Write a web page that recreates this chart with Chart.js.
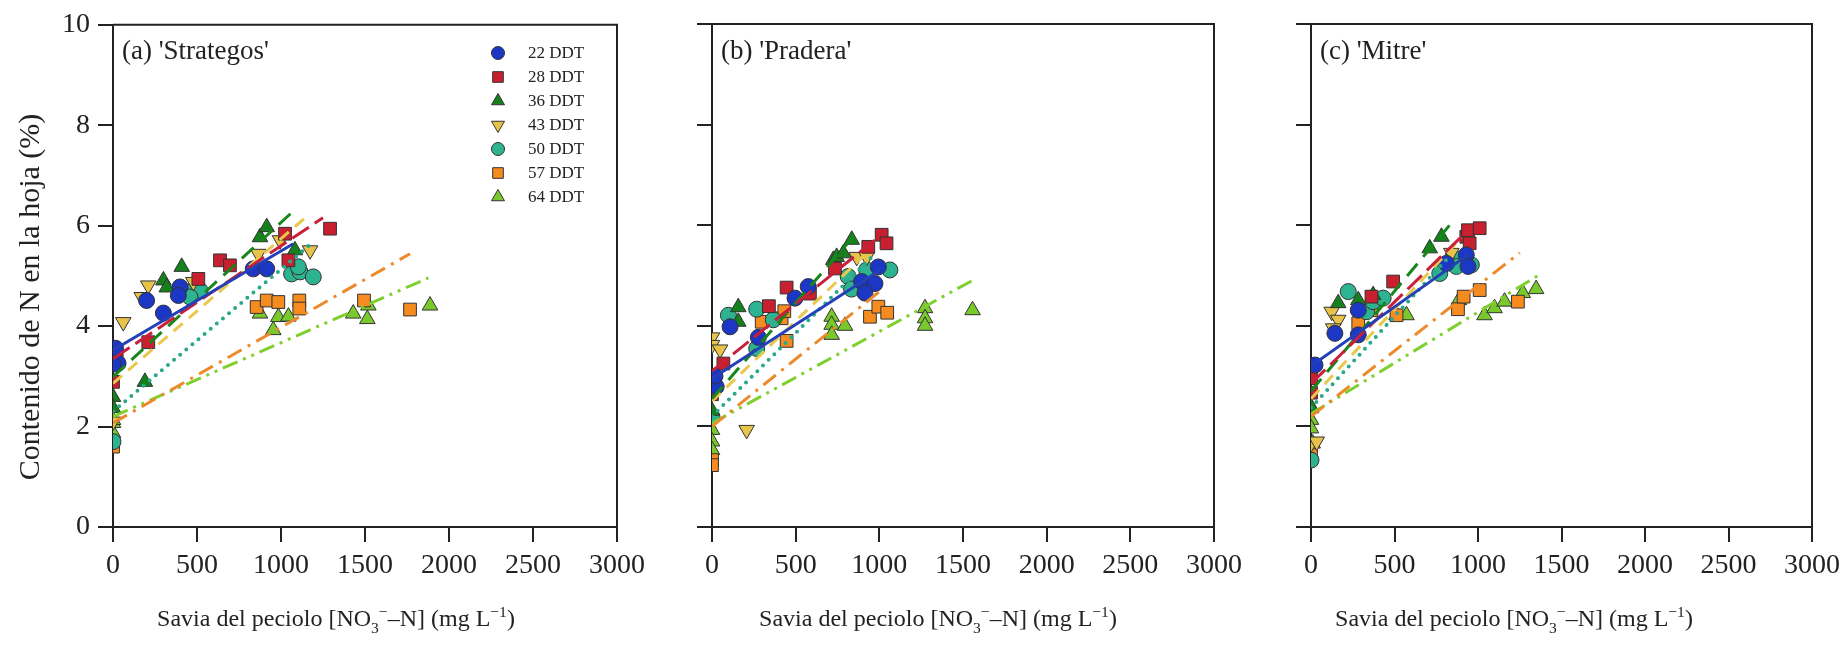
<!DOCTYPE html>
<html>
<head>
<meta charset="utf-8">
<script src="https://cdn.jsdelivr.net/npm/chart.js@4.4.1/dist/chart.umd.min.js"></script>
<style>
  body { margin: 0; background: #fff; }
  #wrap { position: relative; width: 1847px; height: 652px; }
  canvas { position: absolute; top: 0; }
</style>
</head>
<body>
<div id="wrap">
  <canvas id="panel-a" width="652" height="652" style="left:0px"></canvas>
  <canvas id="panel-b" width="598" height="652" style="left:652px"></canvas>
  <canvas id="panel-c" width="597" height="652" style="left:1250px"></canvas>
</div>
<script>
// =========
// Variables
// =========

//  Series
//  ------
const seriesLabels = ['22 DDT', '28 DDT', '36 DDT', '43 DDT', '50 DDT', '57 DDT', '64 DDT'];
const xTicks = [0, 500, 1000, 1500, 2000, 2500, 3000];
const yTicks = [0, 2, 4, 6, 8, 10];

//  (a) 'Strategos'  - petiole sap (x) and leaf N (y), one list per series
//  ---------------
const strategosX = [
  [0, 30, 0, 15, 200, 300, 399, 389, 835, 915],
  [0, 22, 210, 508, 637, 696, 1024, 1044, 1292],
  [0, 0, 190, 300, 320, 409, 875, 915, 1083],
  [0, 61, 171, 210, 478, 865, 994, 1173],
  [0, 438, 478, 518, 458, 1063, 1113, 1192, 1103],
  [0, 0, 855, 915, 984, 1109, 1109, 1494, 1768],
  [0, 0, 0, 875, 954, 984, 1044, 1430, 1514, 1520, 1887],
];
const strategosY = [
  [3.46, 3.26, 3.24, 3.56, 4.51, 4.26, 4.78, 4.61, 5.14, 5.14],
  [2.89, 3.42, 3.68, 4.94, 5.31, 5.21, 5.84, 5.31, 5.94],
  [2.59, 2.37, 2.89, 4.91, 4.77, 5.18, 5.77, 5.97, 5.51],
  [2.10, 4.08, 4.58, 4.81, 4.88, 5.44, 5.71, 5.51],
  [1.70, 4.68, 4.71, 4.71, 4.58, 5.04, 5.08, 4.98, 5.18],
  [1.66, 1.60, 4.38, 4.51, 4.48, 4.51, 4.35, 4.51, 4.33],
  [1.87, 2.07, 2.13, 4.25, 3.92, 4.18, 4.19, 4.25, 4.14, 4.41, 4.41],
];
const strategosFitX = [[0, 1073], [0, 1250], [0, 1083], [0, 1173], [0, 1190], [0, 1768], [0, 1877]];
const strategosFitY = [[3.52, 5.64], [3.35, 6.16], [2.99, 6.32], [2.86, 6.24], [2.30, 5.67], [2.07, 5.44], [2.20, 4.96]];

//  (b) 'Pradera'
//  -------------
const praderaX = [
  [0, 25, 18, 108, 277, 496, 575, 894, 974, 914, 994],
  [0, 0, 68, 340, 446, 585, 735, 934, 1014, 1043],
  [0, 157, 157, 725, 745, 785, 835],
  [0, 0, 48, 207, 865, 924],
  [0, 98, 267, 366, 267, 814, 834, 924, 1063],
  [0, 0, 297, 416, 432, 446, 944, 994, 1047],
  [0, 0, 0, 715, 715, 715, 795, 1273, 1273, 1273, 1557],
];
const praderaY = [
  [2.92, 2.79, 3.00, 3.98, 3.77, 4.55, 4.78, 4.88, 4.84, 4.65, 5.17],
  [3.02, 2.64, 3.25, 4.39, 4.76, 4.64, 5.14, 5.57, 5.81, 5.64],
  [2.31, 4.37, 4.08, 5.31, 5.37, 5.44, 5.71],
  [3.77, 3.62, 3.53, 1.93, 5.37, 5.37],
  [2.19, 4.21, 4.33, 4.12, 3.55, 4.98, 4.73, 5.11, 5.11],
  [1.33, 1.23, 4.08, 4.15, 4.29, 3.70, 4.18, 4.38, 4.26],
  [1.93, 1.70, 1.53, 4.18, 4.02, 3.82, 4.00, 4.35, 4.15, 4.00, 4.31],
];
const praderaFitX = [[0, 1000], [0, 990], [0, 845], [0, 925], [0, 950], [0, 1023], [0, 1561]];
const praderaFitY = [[2.95, 5.10], [3.10, 5.75], [2.55, 5.77], [2.50, 5.45], [2.20, 5.35], [2.00, 4.74], [2.06, 4.91]];

//  (c) 'Mitre'
//  -----------
const mitreX = [
  [24, 143, 283, 283, 811, 930, 940],
  [0, 0, 362, 492, 930, 950, 940, 1010],
  [0, 163, 283, 372, 711, 781],
  [0, 34, 124, 163, 133, 840],
  [0, 223, 333, 372, 432, 771, 850, 870, 960],
  [0, 283, 362, 512, 880, 914, 1010, 1239],
  [0, 0, 0, 10, 512, 572, 886, 1039, 1099, 1159, 1268, 1348],
];
const mitreY = [
  [3.22, 3.85, 3.82, 4.31, 5.24, 5.41, 5.18],
  [2.96, 2.67, 4.58, 4.88, 5.77, 5.64, 5.90, 5.94],
  [2.39, 4.45, 4.51, 4.61, 5.54, 5.77],
  [1.66, 1.70, 4.28, 4.12, 3.95, 5.45],
  [1.33, 4.68, 4.28, 4.48, 4.55, 5.04, 5.37, 5.18, 5.21],
  [1.43, 4.05, 4.31, 4.21, 4.33, 4.58, 4.71, 4.48],
  [2.36, 2.13, 1.96, 1.66, 4.21, 4.21, 4.51, 4.21, 4.35, 4.48, 4.65, 4.73],
];
const mitreFitX = [[0, 940], [0, 940], [0, 830], [0, 900], [0, 820], [0, 1250], [0, 1360]];
const mitreFitY = [[3.20, 5.41], [2.85, 5.90], [2.70, 6.00], [2.55, 5.75], [2.37, 5.35], [2.20, 5.45], [2.25, 5.00]];


// ======
// Styles
// ======
const FONT = '"Liberation Serif", "Times New Roman", serif';
const INK = '#222';

const fillColors = ['#1b37c4', '#c8202f', '#16801c', '#e8c34a', '#2db38f', '#f68b1f', '#79c92d'];
const lineColors = ['#2340b8', '#c8203a', '#17861b', '#e8c84e', '#2aa88c', '#ec8a2c', '#7fcf2f'];
const shapes = ['circle', 'rect', 'triangle', 'triangle', 'circle', 'rect', 'triangle'];
const rotations = [0, 0, 0, 180, 0, 0, 0];
const radii = [8, 9, 9, 9, 8, 9, 9];
const dashes = [[], [20, 7], [16, 9], [12, 8], [0, 8], [16, 7, 3, 7], [16, 6, 3, 6, 3, 6]];


//  Build datasets for one panel
//  ----------------------------
const buildDatasets = (xs, ys, fitX, fitY) => {
  const sets = [];
  for (let i = 0; i < seriesLabels.length; i++) {
    sets.push({
      type: 'scatter',
      label: seriesLabels[i],
      data: xs[i].map((x, j) => ({x: x, y: ys[i][j]})),
      pointStyle: shapes[i],
      pointRotation: rotations[i],
      pointRadius: radii[i],
      pointHoverRadius: radii[i],
      pointBackgroundColor: fillColors[i],
      pointBorderColor: '#333',
      pointBorderWidth: 1,
      showLine: false,
      order: 2,
    });
    sets.push({
      type: 'line',
      label: seriesLabels[i] + ' fit',
      data: fitX[i].map((x, j) => ({x: x, y: fitY[i][j]})),
      borderColor: lineColors[i],
      borderWidth: i === 4 ? 4 : 3,
      borderDash: dashes[i],
      borderCapStyle: i === 4 ? 'round' : 'butt',
      pointRadius: 0,
      fill: false,
      tension: 0,
      order: 1,
    });
  }
  return sets;
};


//  Text with sub / superscripts
//  ----------------------------
const drawRich = (ctx, parts, cx, y, size) => {
  let total = 0;
  parts.forEach((p) => {
    ctx.font = `${p.s ? size * 0.65 : size}px ${FONT}`;
    p.w = ctx.measureText(p.t).width;
    total += p.w;
  });
  let x = cx - total / 2;
  ctx.textAlign = 'left';
  ctx.textBaseline = 'alphabetic';
  parts.forEach((p) => {
    ctx.font = `${p.s ? size * 0.65 : size}px ${FONT}`;
    ctx.fillText(p.t, x, y + (p.s || 0) * size);
    x += p.w;
  });
};

const xTitleParts = [
  {t: 'Savia del peciolo [NO'},
  {t: '3', s: 0.28},
  {t: '\u2212', s: -0.38},
  {t: '\u2013N] (mg L'},
  {t: '\u22121', s: -0.38},
  {t: ')'},
];

const drawMarker = (ctx, i, x, y, r) => {
  ctx.beginPath();
  if (shapes[i] === 'circle') {
    ctx.arc(x, y, r, 0, Math.PI * 2);
  } else if (shapes[i] === 'rect') {
    const s = r * Math.SQRT1_2;
    ctx.rect(x - s, y - s, 2 * s, 2 * s);
  } else {
    const d = rotations[i] ? -1 : 1;
    ctx.moveTo(x, y - d * r);
    ctx.lineTo(x + r * 0.866, y + d * r / 2);
    ctx.lineTo(x - r * 0.866, y + d * r / 2);
    ctx.closePath();
  }
  ctx.fillStyle = fillColors[i];
  ctx.fill();
  ctx.strokeStyle = '#333';
  ctx.lineWidth = 1;
  ctx.stroke();
};


//  Frame, labels, titles, legend
//  -----------------------------
const decorPlugin = {
  id: 'decor',
  afterDraw(chart, args, opts) {
    const {ctx, chartArea: a} = chart;
    ctx.save();

    // top and right frame
    ctx.strokeStyle = INK;
    ctx.lineWidth = 2;
    ctx.beginPath();
    ctx.moveTo(a.left, a.top);
    ctx.lineTo(a.right, a.top);
    ctx.lineTo(a.right, a.bottom);
    ctx.stroke();

    // panel label
    ctx.fillStyle = INK;
    ctx.font = `27px ${FONT}`;
    ctx.textAlign = 'left';
    ctx.textBaseline = 'alphabetic';
    ctx.fillText(opts.label, a.left + 9, 59);

    // x title
    drawRich(ctx, xTitleParts, a.left + opts.titleOffset, 626, 24);

    // y title
    if (opts.yTitle) {
      ctx.save();
      ctx.translate(31, 297);
      ctx.rotate(-Math.PI / 2);
      ctx.font = `30px ${FONT}`;
      ctx.textAlign = 'center';
      ctx.textBaseline = 'middle';
      ctx.fillText(opts.yTitle, 0, 0);
      ctx.restore();
    }

    // legend
    if (opts.legend) {
      ctx.font = `17px ${FONT}`;
      ctx.textBaseline = 'middle';
      seriesLabels.forEach((lab, i) => {
        const y = 53 + i * 24;
        drawMarker(ctx, i, 498, y, shapes[i] === 'circle' ? 6.5 : 7.5);
        ctx.fillStyle = INK;
        ctx.fillText(lab, 528, y + 1);
      });
    }
    ctx.restore();
  },
};


// ======
// Charts
// ======
const makePanel = (canvas, sets, cfg) => {
  return new Chart(canvas, {
    type: 'scatter',
    data: {datasets: sets},
    options: {
      responsive: false,
      animation: false,
      layout: {padding: {top: 24, right: cfg.right, bottom: 0, left: 0}},
      scales: {
        x: {
          type: 'linear',
          min: 0,
          max: 3000,
          afterBuildTicks: (s) => { s.ticks = xTicks.map((v) => ({value: v})); },
          afterFit: (s) => { s.height = 125; },
          ticks: {
            font: {family: FONT, size: 28},
            color: INK,
            padding: 7,
            maxRotation: 0,
            callback: (v) => String(v),
          },
          grid: {drawOnChartArea: false, drawTicks: true, tickLength: 15, color: INK, lineWidth: 2},
          border: {display: true, color: INK, width: 2},
        },
        y: {
          type: 'linear',
          min: 0,
          max: 10,
          afterBuildTicks: (s) => { s.ticks = yTicks.map((v) => ({value: v})); },
          afterFit: (s) => { s.width = cfg.yWidth; },
          ticks: {
            display: cfg.yLabels,
            font: {family: FONT, size: 28},
            color: INK,
            padding: 8,
            callback: (v) => String(v),
          },
          grid: {drawOnChartArea: false, drawTicks: true, tickLength: 15, color: INK, lineWidth: 2},
          border: {display: true, color: INK, width: 2},
        },
      },
      plugins: {
        legend: {display: false},
        tooltip: {enabled: false},
        decor: {
          label: cfg.label,
          titleOffset: cfg.titleOffset,
          yTitle: cfg.yTitle,
          legend: cfg.legend,
        },
      },
    },
    plugins: [decorPlugin],
  });
};

makePanel(document.getElementById('panel-a'),
  buildDatasets(strategosX, strategosY, strategosFitX, strategosFitY),
  {right: 35, yWidth: 113, yLabels: true, label: "(a) 'Strategos'", titleOffset: 223,
   yTitle: 'Contenido de N en la hoja (%)', legend: true});

makePanel(document.getElementById('panel-b'),
  buildDatasets(praderaX, praderaY, praderaFitX, praderaFitY),
  {right: 36, yWidth: 60, yLabels: false, label: "(b) 'Pradera'", titleOffset: 226});

makePanel(document.getElementById('panel-c'),
  buildDatasets(mitreX, mitreY, mitreFitX, mitreFitY),
  {right: 34, yWidth: 61, yLabels: false, label: "(c) 'Mitre'", titleOffset: 203});
</script>
</body>
</html>
